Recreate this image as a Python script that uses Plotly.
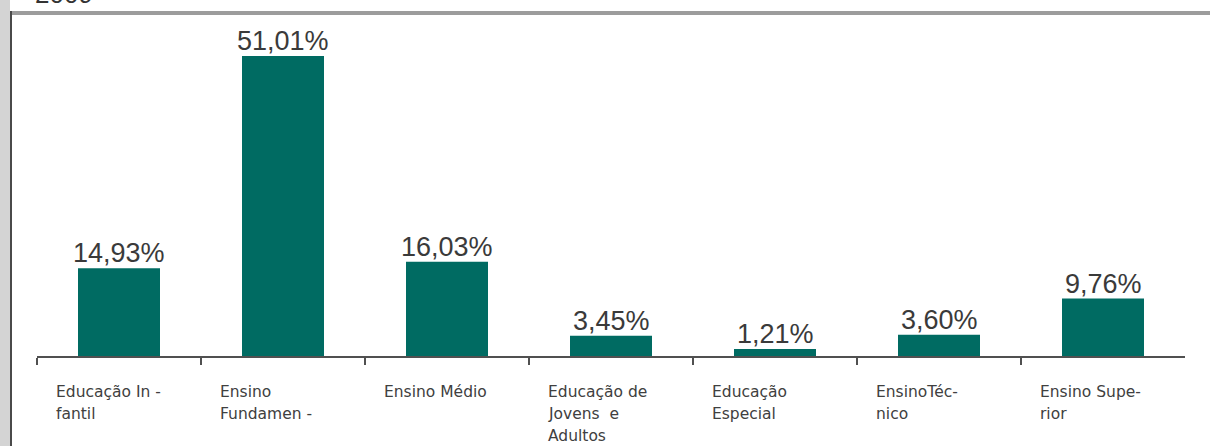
import plotly.graph_objects as go

categories = ["Educação Infantil", "Ensino Fundamental", "Ensino Médio",
              "Educação de Jovens e Adultos", "Educação Especial",
              "Ensino Técnico", "Ensino Superior"]
values = [14.93, 51.01, 16.03, 3.45, 1.21, 3.60, 9.76]
label_lines = [
    ["Educação In -", "fantil"],
    ["Ensino", "Fundamen -"],
    ["Ensino Médio"],
    ["Educação de", "Jovens  e", "Adultos"],
    ["Educação", "Especial"],
    ["EnsinoTéc-", "nico"],
    ["Ensino Supe-", "rior"],
]
year_label = "2009"

W, H = 1210, 446
ML, MR, MT, MB = 37, 25, 20, 90
PW = W - ML - MR
PH = H - MT - MB
AXIS_Y = H - MB

def px_x(p):
    return (p - ML) / PW

def px_y(p):
    return (AXIS_Y - p) / PH

bar_color = "#006b62"
text_color = "#3a3a3a"
font_family = "Liberation Sans, Arial, sans-serif"
cat_font = "DejaVu Sans, Liberation Sans, sans-serif"

xs = list(range(len(categories)))
texts = [f"{v:.2f}".replace(".", ",") + "%" for v in values]

fig = go.Figure()
fig.add_trace(go.Bar(
    x=xs, y=values, width=0.5, marker=dict(color=bar_color, line=dict(width=0)),
    text=texts, textposition="none", cliponaxis=False,
    hovertext=categories, hoverinfo="text+y",
))

annotations = []
for i, t in enumerate(texts):
    annotations.append(dict(
        x=i, xref="x", y=values[i], yref="y", yanchor="bottom", yshift=-2,
        text=t, showarrow=False,
        font=dict(family=font_family, size=27, color=text_color),
    ))

line_shifts = [-25, -47, -69]
for i, lines in enumerate(label_lines):
    for j, ln in enumerate(lines):
        annotations.append(dict(
            x=i - 0.5 + 17 / 164, xref="x", xanchor="left",
            y=0, yref="paper", yanchor="top", yshift=line_shifts[j],
            text=ln, showarrow=False,
            font=dict(family=cat_font, size=15.5, color="#404040"),
        ))

annotations.append(dict(
    x=px_x(33), xref="paper", xanchor="left",
    y=px_y(11), yref="paper", yanchor="bottom",
    text=year_label, showarrow=False,
    font=dict(family=font_family, size=26, color="#333333"),
))

shapes = [
    dict(type="rect", xref="paper", yref="paper",
         x0=px_x(0), x1=px_x(10), y0=px_y(H + 2), y1=px_y(-2),
         fillcolor="#d4d4d4", line=dict(width=0), layer="above"),
    dict(type="line", xref="paper", yref="paper",
         x0=px_x(10), x1=px_x(W + 2), y0=px_y(13), y1=px_y(13),
         line=dict(color="#9c9c9c", width=4), layer="above"),
    dict(type="line", xref="paper", yref="paper",
         x0=px_x(11), x1=px_x(11), y0=px_y(11), y1=px_y(H + 2),
         line=dict(color="#4a4a4a", width=2), layer="above"),
]

fig.update_layout(
    width=W, height=H,
    margin=dict(l=ML, r=MR, t=MT, b=MB, pad=0),
    paper_bgcolor="white", plot_bgcolor="white",
    showlegend=False,
    annotations=annotations,
    shapes=shapes,
    xaxis=dict(
        range=[-0.5, 6.5], showgrid=False, zeroline=False,
        showline=True, linecolor="#505050", linewidth=2,
        tickmode="array", tickvals=[i - 0.5 for i in range(len(categories))],
        ticks="outside", ticklen=7, tickwidth=2, tickcolor="#505050",
        showticklabels=False, fixedrange=True,
    ),
    yaxis=dict(
        range=[0, PH / 5.88], visible=False, showgrid=False, zeroline=False,
        fixedrange=True,
    ),
)

fig.write_html(
    "out.html",
    config={"displayModeBar": False},
    post_script="document.body.style.margin='0';document.body.style.overflow='hidden';",
)
